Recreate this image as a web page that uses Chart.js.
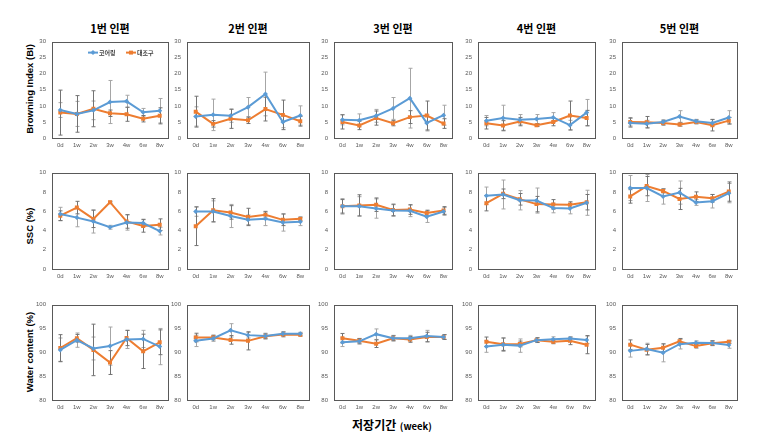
<!DOCTYPE html>
<html>
<head>
<meta charset="utf-8">
<script src="https://cdn.jsdelivr.net/npm/chart.js@4.4.1/dist/chart.umd.min.js"></script>
<style>
  body { margin: 0; background: #fff; font-family: 'Noto Sans CJK KR', sans-serif; }
  #wrap { position: relative; width: 767px; height: 439px; overflow: hidden; }
  .panel { position: absolute; }
  .title { position: absolute; font-weight: bold; font-size: 11px; color: #000; white-space: nowrap; transform: translate(-50%, -50%); }
  .ytitle { position: absolute; font-family: 'Liberation Sans', sans-serif; font-weight: bold; font-size: 9.5px; color: #000; white-space: nowrap; transform: translate(-50%, -50%) rotate(-90deg); }
  .xtitle { position: absolute; font-weight: bold; color: #000; white-space: nowrap; transform: translate(-50%, -50%); }
</style>
</head>
<body>
<div id="wrap"></div>
<script>
// categories and labels
const categories = ['0d', '1w', '2w', '3w', '4w', '6w', '8w'];
const panelTitles = ['1번 인편', '2번 인편', '3번 인편', '4번 인편', '5번 인편'];
const seriesNames = ['코어링', '대조구'];
const rowTitles = ['Browning Index (BI)', 'SSC (%)', 'Water content (%)'];

// Browning index, one row per 인편
const biCoring = [
  [8.7, 7.5, 8.6, 11.2, 11.4, 8.0, 8.5],
  [6.7, 7.2, 6.9, 9.6, 13.7, 5.0, 7.0],
  [5.7, 5.5, 6.9, 9.2, 12.4, 4.7, 7.1],
  [5.4, 6.2, 5.7, 5.9, 6.4, 4.0, 7.9],
  [4.7, 4.4, 5.0, 6.7, 5.2, 4.7, 6.4]
];
const biCoringErr = [
  [2.3, 3.9, 2.9, 6.7, 1.9, 1.2, 3.8],
  [3.0, 4.9, 2.0, 3.0, 6.8, 1.8, 3.0],
  [1.6, 2.0, 2.0, 3.4, 9.3, 2.5, 3.1],
  [1.6, 4.0, 1.6, 1.4, 1.5, 1.5, 4.1],
  [1.4, 1.1, 0.7, 1.8, 0.6, 1.0, 2.1]
];
const biControl = [
  [7.9, 7.5, 9.1, 7.7, 7.4, 6.0, 6.9],
  [8.2, 4.4, 6.0, 5.5, 9.0, 7.2, 5.2],
  [5.0, 3.9, 6.2, 4.6, 6.5, 7.0, 4.5],
  [4.6, 3.9, 5.1, 4.0, 5.0, 7.0, 6.2],
  [5.0, 4.9, 4.7, 4.2, 5.0, 4.0, 5.4]
];
const biControlErr = [
  [7.0, 5.7, 5.6, 1.0, 2.2, 1.0, 2.5],
  [4.8, 1.0, 3.0, 1.0, 3.7, 4.6, 1.5],
  [2.2, 1.3, 2.2, 0.8, 2.0, 4.5, 1.5],
  [1.8, 1.5, 1.3, 0.4, 1.2, 4.5, 2.4],
  [1.3, 1.8, 0.7, 0.5, 0.6, 1.8, 1.0]
];

// SSC (%)
const sscCoring = [
  [5.7, 5.33, 4.93, 4.33, 4.83, 4.77, 3.93],
  [5.97, 5.97, 5.5, 5.1, 5.2, 4.83, 4.9],
  [6.5, 6.5, 6.27, 6.07, 6.03, 5.43, 5.97],
  [7.6, 7.73, 7.13, 7.1, 6.33, 6.27, 6.87],
  [8.4, 8.4, 7.53, 7.93, 6.9, 7.03, 7.87]
];
const sscCoringErr = [
  [0.7, 0.95, 1.2, 0.2, 0.8, 0.4, 0.4],
  [0.5, 1.1, 1.2, 0.5, 0.7, 0.9, 0.4],
  [0.8, 1.0, 1.0, 0.6, 0.6, 0.6, 0.4],
  [0.9, 1.5, 1.0, 1.3, 0.5, 0.55, 1.3],
  [1.3, 1.4, 0.8, 1.2, 0.3, 0.7, 1.0]
];
const sscControl = [
  [5.53, 6.37, 5.2, 6.93, 4.93, 4.47, 4.6],
  [4.43, 6.1, 5.87, 5.4, 5.63, 5.1, 5.2],
  [6.5, 6.6, 6.67, 6.13, 6.17, 5.8, 6.07],
  [6.83, 7.8, 7.23, 6.73, 6.7, 6.67, 6.93],
  [7.53, 8.6, 8.1, 7.27, 7.5, 7.33, 8.03]
];
const sscControlErr = [
  [0.5, 0.65, 0.9, 0.1, 0.7, 0.65, 0.6],
  [2.0, 1.2, 0.7, 0.9, 0.35, 0.6, 0.2],
  [0.7, 1.1, 0.7, 0.6, 0.5, 0.3, 0.4],
  [0.8, 0.5, 0.6, 0.8, 0.5, 0.3, 0.8],
  [0.7, 1.0, 0.2, 1.1, 0.5, 0.4, 1.0]
];

// Water content (%)
const wcCoring = [
  [90.5, 92.55, 90.8, 91.3, 92.7, 92.8, 91.2],
  [92.4, 92.9, 94.6, 93.6, 93.4, 93.9, 93.9],
  [92.1, 92.3, 93.8, 92.95, 92.95, 93.4, 93.2],
  [91.2, 91.6, 91.4, 92.55, 92.75, 92.9, 92.6],
  [90.3, 90.7, 89.9, 91.7, 92.0, 91.95, 91.55]
];
const wcCoringErr = [
  [2.5, 1.5, 2.4, 4.0, 1.9, 1.8, 3.8],
  [1.2, 0.6, 1.4, 0.6, 0.6, 0.4, 0.3],
  [0.9, 0.6, 1.1, 0.6, 0.6, 1.2, 0.5],
  [1.2, 1.4, 1.4, 0.5, 0.5, 0.3, 0.8],
  [1.3, 1.2, 1.9, 1.0, 0.4, 0.5, 0.7]
];
const wcControl = [
  [90.9, 92.95, 90.5, 87.85, 93.0, 90.2, 92.1],
  [93.1, 93.1, 92.6, 92.4, 93.35, 93.75, 93.7],
  [92.95, 92.4, 91.8, 92.95, 92.7, 93.2, 93.2],
  [92.2, 91.7, 91.75, 92.55, 92.2, 92.4, 91.6],
  [91.6, 90.55, 90.95, 92.3, 91.3, 91.9, 92.2]
];
const wcControlErr = [
  [2.8, 0.8, 5.4, 2.5, 1.6, 3.6, 2.6],
  [0.9, 0.5, 0.9, 1.9, 0.5, 0.5, 0.3],
  [1.0, 0.5, 0.8, 0.5, 0.6, 1.0, 0.5],
  [1.0, 1.3, 0.6, 0.5, 0.4, 0.8, 1.9],
  [1.0, 1.1, 0.8, 0.6, 0.4, 0.5, 0.3]
];

// axis ranges per row
const yMin = [0, 0, 80];
const yMax = [30, 10, 100];
const yStep = [5, 2, 5];

const rows = [
  [biCoring, biCoringErr, biControl, biControlErr],
  [sscCoring, sscCoringErr, sscControl, sscControlErr],
  [wcCoring, wcCoringErr, wcControl, wcControlErr]
];

// plot box geometry (px)
const colLeft = [52, 187, 334, 478, 622];
const colWidth = [116, 122, 118, 117, 115];
const rowTop = [38, 169, 301];
const rowHeight = [100, 100, 99];
const YW = 22, XH = 13, PAD = 6;

const blue = '#5b9bd5';
const orange = '#ed7d31';

const errorBars = {
  id: 'errorBars',
  beforeDatasetsDraw(chart) {
    const ctx = chart.ctx;
    const ys = chart.scales.y;
    chart.data.datasets.forEach((ds, di) => {
      const meta = chart.getDatasetMeta(di);
      ctx.save();
      ctx.strokeStyle = ds.errorColor;
      ctx.lineWidth = 1;
      meta.data.forEach((pt, i) => {
        const v = ds.data[i], e = ds.errors[i];
        const y1 = ys.getPixelForValue(v + e);
        const y2 = ys.getPixelForValue(v - e);
        const x = Math.round(pt.x) + 0.5;
        ctx.beginPath();
        ctx.moveTo(x, y1); ctx.lineTo(x, y2);
        ctx.moveTo(x - 2, y1); ctx.lineTo(x + 2, y1);
        ctx.moveTo(x - 2, y2); ctx.lineTo(x + 2, y2);
        ctx.stroke();
      });
      ctx.restore();
    });
  }
};

const boxFrame = {
  id: 'boxFrame',
  beforeDatasetsDraw(chart) {
    const a = chart.chartArea, ctx = chart.ctx;
    ctx.save();
    ctx.strokeStyle = '#595959';
    ctx.lineWidth = 1;
    ctx.strokeRect(Math.round(a.left) + 0.5, Math.round(a.top) + 0.5, Math.round(a.width), Math.round(a.height));
    ctx.restore();
  }
};

const miniLegend = {
  id: 'miniLegend',
  afterDraw(chart, args, opts) {
    if (!opts.show) return;
    const a = chart.chartArea, ctx = chart.ctx;
    const y = a.top + 11;
    const items = [
      { x: a.left + 36, color: blue, style: 'rectRot', r: 2.5, text: seriesNames[0] },
      { x: a.left + 74, color: orange, style: 'rect', r: 2.8, text: seriesNames[1] }
    ];
    ctx.save();
    items.forEach(it => {
      ctx.strokeStyle = it.color;
      ctx.lineWidth = 2;
      ctx.beginPath();
      ctx.moveTo(it.x, y); ctx.lineTo(it.x + 10, y);
      ctx.stroke();
      ctx.fillStyle = it.color;
      Chart.helpers.drawPoint(ctx, { pointStyle: it.style, radius: it.r, borderWidth: 0 }, it.x + 5, y);
      ctx.fillStyle = '#404040';
      ctx.font = 'bold 6px "Noto Sans CJK KR"';
      ctx.textBaseline = 'middle';
      ctx.fillText(it.text, it.x + 11, y + 0.5);
    });
    ctx.restore();
  }
};

const wrap = document.getElementById('wrap');

function addText(cls, text, x, y) {
  const d = document.createElement('div');
  d.className = cls;
  d.style.left = x + 'px';
  d.style.top = y + 'px';
  d.innerHTML = text;
  wrap.appendChild(d);
}

panelTitles.forEach((t, c) => addText('title', t, colLeft[c] + colWidth[c] / 2, 28));
addText('ytitle', rowTitles[0], 29, 89);
addText('ytitle', rowTitles[1], 29, 226);
addText('ytitle', rowTitles[2], 29, 352);
addText('xtitle', '<span style="font-size:12px">저장기간</span> <span style="font-size:9.5px">(week)</span>', 392, 423);

rows.forEach((r, ri) => {
  const [cor, corErr, con, conErr] = r;
  for (let c = 0; c < 5; c++) {
    const cv = document.createElement('canvas');
    const w = colWidth[c] + YW + PAD;
    const h = rowHeight[ri] + XH + PAD;
    cv.width = w; cv.height = h;
    cv.className = 'panel';
    cv.style.left = (colLeft[c] - YW) + 'px';
    cv.style.top = (rowTop[ri] - PAD) + 'px';
    cv.style.width = w + 'px';
    cv.style.height = h + 'px';
    wrap.appendChild(cv);

    new Chart(cv.getContext('2d'), {
      type: 'line',
      data: {
        labels: categories,
        datasets: [
          {
            label: seriesNames[0],
            data: cor[c],
            errors: corErr[c],
            errorColor: '#a6a6a6',
            borderColor: blue,
            backgroundColor: blue,
            borderWidth: 2,
            pointStyle: 'rectRot',
            pointRadius: 2.5,
            pointBorderWidth: 0,
            tension: 0
          },
          {
            label: seriesNames[1],
            data: con[c],
            errors: conErr[c],
            errorColor: '#737373',
            borderColor: orange,
            backgroundColor: orange,
            borderWidth: 2,
            pointStyle: 'rect',
            pointRadius: 2.8,
            pointBorderWidth: 0,
            tension: 0
          }
        ]
      },
      options: {
        responsive: false,
        animation: false,
        layout: { padding: { left: 0, top: PAD, right: PAD, bottom: 0 } },
        plugins: {
          legend: { display: false },
          tooltip: { enabled: false },
          miniLegend: { show: ri === 0 && c === 0 }
        },
        scales: {
          x: {
            offset: true,
            grid: { display: false, drawTicks: false },
            border: { display: false },
            ticks: { color: '#595959', font: { size: 6, family: 'Liberation Sans' }, padding: 4, maxRotation: 0, autoSkip: false },
            afterFit: s => { s.height = XH; }
          },
          y: {
            min: yMin[ri],
            max: yMax[ri],
            grid: { display: false, drawTicks: false },
            border: { display: false },
            ticks: { stepSize: yStep[ri], color: '#595959', font: { size: 6, family: 'Liberation Sans' }, padding: 6 },
            afterFit: s => { s.width = YW; }
          }
        }
      },
      plugins: [errorBars, boxFrame, miniLegend]
    });
  }
});
</script>
</body>
</html>
